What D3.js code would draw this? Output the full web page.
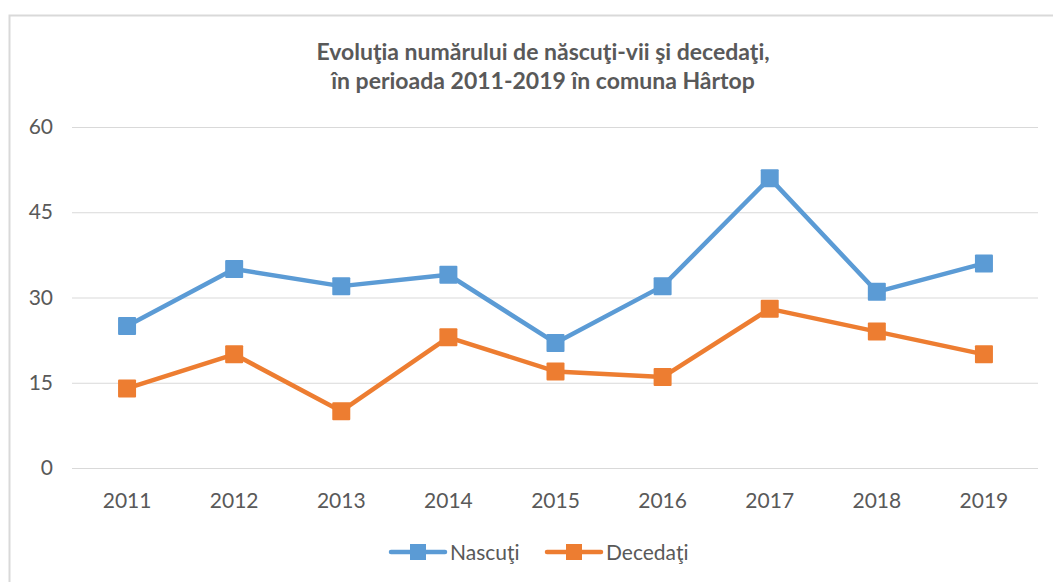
<!DOCTYPE html>
<html><head><meta charset="utf-8">
<script src="https://cdn.jsdelivr.net/npm/d3@7"></script>
<style>
html,body{margin:0;padding:0;background:#fff;}
svg{display:block;font-family:Lato,"Open Sans",sans-serif;}
</style></head>
<body>
<svg id="chart" width="1053" height="582"></svg>
<script>
const years = ["2011","2012","2013","2014","2015","2016","2017","2018","2019"];
const nascuti = [25,35,32,34,22,32,51,31,36];
const decedati = [14,20,10,23,17,16,28,24,20];
const yTicks = [0,15,30,45,60];
const seriesNames = ["Nascuţi","Decedaţi"];
const colors = ["#5b9bd5","#ed7d31"];
const titleLines = ["Evoluţia numărului de născuţi-vii şi decedaţi,","în perioada 2011-2019 în comuna Hârtop"];

const svg = d3.select("#chart");
// border
svg.append("rect").attr("x",9.5).attr("y",15.5).attr("width",1100).attr("height",700)
  .attr("fill","none").attr("stroke","#d9d9d9").attr("stroke-width",2);

const x = d3.scaleBand().domain(years).range([73.5,1037.5]);
const y = d3.scaleLinear().domain([0,60]).range([468,127]);

// gridlines
svg.append("g").selectAll("line").data(yTicks).join("line")
  .attr("x1",72).attr("x2",1038).attr("y1",d=>y(d)+0.5).attr("y2",d=>y(d)+0.5)
  .attr("stroke","#d9d9d9").attr("stroke-width",1);

// y axis labels
const yAxis = svg.append("g").attr("transform","translate(53,0)")
  .call(d3.axisLeft(y).tickValues(yTicks).tickSize(0).tickPadding(0));
yAxis.select(".domain").remove();
yAxis.selectAll("text").attr("font-size",21).attr("fill","#595959").attr("font-family","Lato, 'Open Sans', sans-serif");

// x axis labels
const xAxis = svg.append("g").attr("transform","translate(0,508)")
  .call(d3.axisBottom(x).tickSize(0).tickPadding(0));
xAxis.select(".domain").remove();
xAxis.selectAll("text").attr("font-size",21).attr("fill","#595959").attr("dy","0").attr("font-family","Lato, 'Open Sans', sans-serif");

// title
svg.append("g").selectAll("text").data(titleLines).join("text")
  .attr("x",543).attr("y",(d,i)=>60+i*29).attr("text-anchor","middle")
  .attr("font-size",23).attr("font-weight","bold").attr("fill","#595959").text(d=>d);

const data = [nascuti, decedati];
const line = d3.line().x((d,i)=>x(years[i])+x.bandwidth()/2).y(d=>y(d));
data.forEach((vals,si)=>{
  svg.append("path").datum(vals).attr("d",line).attr("fill","none")
    .attr("stroke",colors[si]).attr("stroke-width",4.5).attr("stroke-linejoin","round");
  svg.append("g").selectAll("rect").data(vals).join("rect")
    .attr("x",(d,i)=>x(years[i])+x.bandwidth()/2-9).attr("y",d=>y(d)-9)
    .attr("width",18).attr("height",18).attr("rx",1).attr("fill",colors[si]);
});

// legend
const legX = [391, 547];
seriesNames.forEach((n,i)=>{
  const g = svg.append("g").attr("transform",`translate(${legX[i]},552)`);
  g.append("line").attr("x1",0).attr("x2",54).attr("y1",0).attr("y2",0)
    .attr("stroke",colors[i]).attr("stroke-width",4.5).attr("stroke-linecap","round");
  g.append("rect").attr("x",19).attr("y",-8).attr("width",16).attr("height",16).attr("fill",colors[i]);
  g.append("text").attr("x",59).attr("y",0).attr("dy","0.36em").attr("font-size",21)
    .attr("fill","#595959").text(n);
});
</script>
</body></html>
